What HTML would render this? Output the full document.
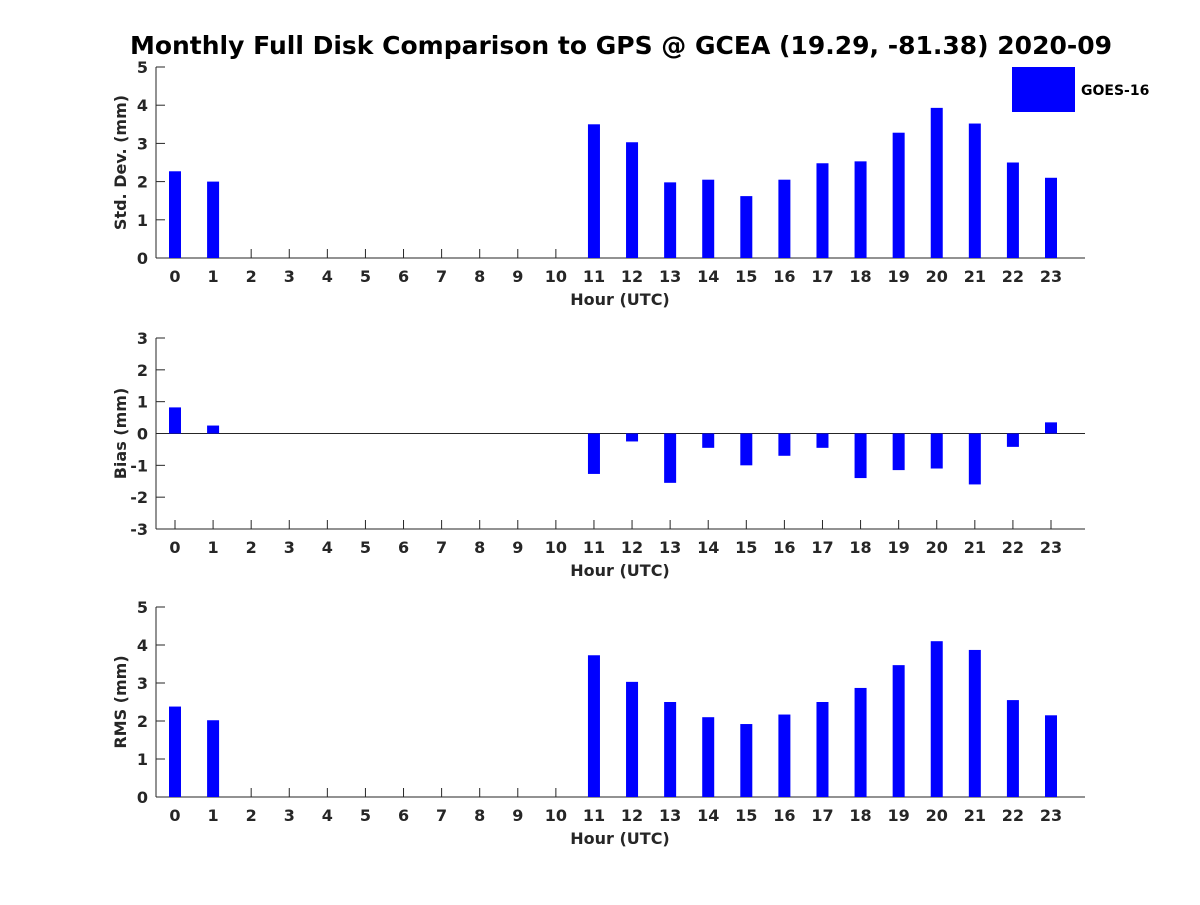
<!DOCTYPE html>
<html><head><meta charset="utf-8"><style>
body{margin:0;background:#fff}
svg text{font-family:"DejaVu Sans","Liberation Sans",sans-serif;font-weight:bold;fill:#262626}
</style></head><body>
<svg id="c" width="1200" height="900" viewBox="0 0 1200 900" xmlns="http://www.w3.org/2000/svg">
<rect width="1200" height="900" fill="#fff"/>
<text x="621" y="54" text-anchor="middle" font-size="25" style="fill:#000">Monthly Full Disk Comparison to GPS @ GCEA (19.29, -81.38) 2020-09</text>
<rect x="1012" y="67" width="63" height="45" fill="#0000ff"/>
<text x="1081" y="95" font-size="14" style="fill:#000">GOES-16</text>
</svg>
<script>
const hours=[0,1,2,3,4,5,6,7,8,9,10,11,12,13,14,15,16,17,18,19,20,21,22,23];
const stdVals=[2.27,2.0,null,null,null,null,null,null,null,null,null,3.5,3.03,1.98,2.05,1.62,2.05,2.48,2.53,3.28,3.93,3.52,2.5,2.1];
const biasVals=[0.82,0.25,null,null,null,null,null,null,null,null,null,-1.27,-0.25,-1.55,-0.45,-1.0,-0.7,-0.45,-1.4,-1.15,-1.1,-1.6,-0.42,0.35];
const rmsVals=[2.38,2.02,null,null,null,null,null,null,null,null,null,3.73,3.03,2.5,2.1,1.92,2.17,2.5,2.87,3.47,4.1,3.87,2.55,2.15];
const stdTicks=[0,1,2,3,4,5];
const biasTicks=[-3,-2,-1,0,1,2,3];
const rmsTicks=[0,1,2,3,4,5];
const svg=document.getElementById('c');
const NS='http://www.w3.org/2000/svg';
function el(t,a,p){const e=document.createElementNS(NS,t);for(const k in a)e.setAttribute(k,a[k]);(p||svg).appendChild(e);return e;}
function panel(name,vals,ticks,ymin,ymax,top,bot,ylabel){
  const g=el('g',{});
  
  
  const L=156,R=1085;
  const x=h=>175+h*(1051-175)/23;
  const y=v=>bot-(v-ymin)/(ymax-ymin)*(bot-top);
  const la=el('line',{x1:L,y1:top,x2:L,y2:bot,stroke:'#262626','stroke-width':1},g);
  
  
  const ba=el('line',{x1:L,y1:bot,x2:R,y2:bot,stroke:'#262626','stroke-width':1},g);
  
  
  if(ymin<0){const z=el('line',{x1:L,y1:y(0),x2:R,y2:y(0),stroke:'#262626','stroke-width':1},g);
    
    }
  ticks.forEach(t=>{
    el('line',{x1:L,y1:y(t),x2:L+9,y2:y(t),stroke:'#262626'},g);
    const tx=el('text',{x:L-8,y:y(t)+6,'text-anchor':'end','font-size':16},g);
    tx.textContent=t;
    
    
  });
  hours.forEach((h,i)=>{
    el('line',{x1:x(h),y1:bot,x2:x(h),y2:bot-9,stroke:'#262626'},g);
    const tx=el('text',{x:x(h),y:bot+24,'text-anchor':'middle','font-size':16},g);
    tx.textContent=h;
    
    
    const v=vals[i];
    if(v!==null){
      const y0=y(Math.max(0,ymin)),y1=y(v);
      const b=el('rect',{x:x(h)-6,y:Math.min(y0,y1),width:12,height:Math.abs(y1-y0),fill:'#0000ff'},g);
      
      
    }
  });
  const xl=el('text',{x:620,y:bot+47,'text-anchor':'middle','font-size':16},g);
  xl.textContent='Hour (UTC)';
  
  
  const yl=el('text',{x:0,y:0,'text-anchor':'middle','font-size':16,transform:`translate(126,${(top+bot)/2}) rotate(-90)`},g);
  yl.textContent=ylabel;
  
  
}
panel('std-dev',stdVals,stdTicks,0,5,67,258,'Std. Dev. (mm)');
panel('bias',biasVals,biasTicks,-3,3,338,529,'Bias (mm)');
panel('rms',rmsVals,rmsTicks,0,5,607,797,'RMS (mm)');
</script>
</body></html>
